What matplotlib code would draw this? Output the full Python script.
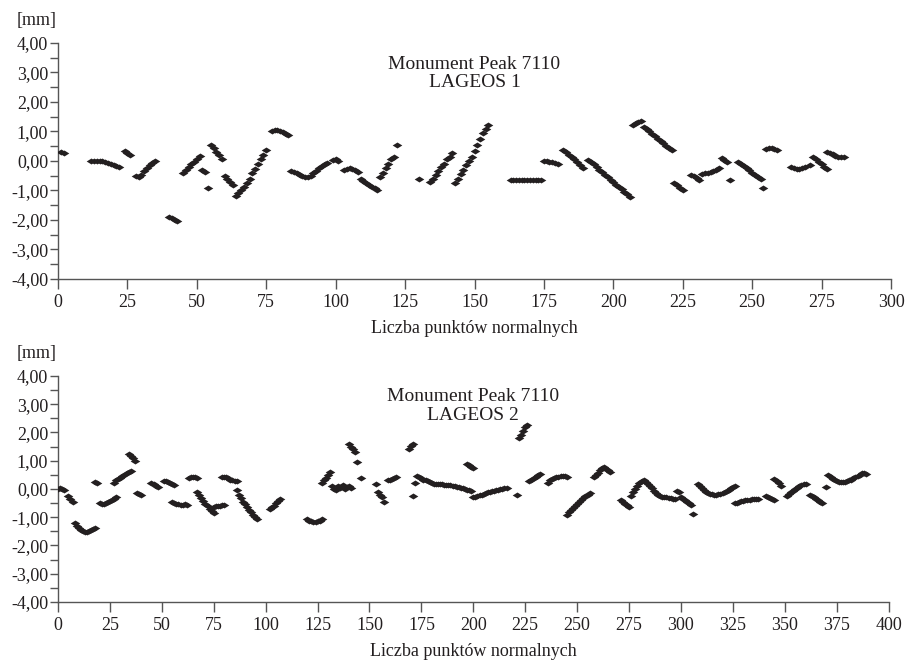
import matplotlib
matplotlib.use("Agg")
import matplotlib.pyplot as plt
from matplotlib.ticker import MultipleLocator, FuncFormatter
import numpy as np

plt.rcParams['font.family'] = ['Liberation Serif', 'DejaVu Serif']

#***** Data *****
# LAGEOS 1 : (start point, values [mm]) per run of normal points
lag1_start = [1, 12, 24, 28, 31, 40, 45, 52, 54, 55, 60, 64, 77, 84, 91, 99, 103, 109,
              116, 122, 130, 134, 143, 163, 175, 182, 191, 207, 211, 222, 228, 232,
              239, 242, 245, 254, 255, 264, 271, 272, 277]
lag1_vals = [
    [0.32, 0.28],
    [0.0, 0.01, 0.01, 0.0, -0.01, -0.03, -0.06, -0.09, -0.13, -0.17, -0.22],
    [0.35, 0.28, 0.2],
    [-0.5, -0.53, -0.48],
    [-0.35, -0.25, -0.15, -0.06, 0.0],
    [-1.9, -1.95, -2.0, -2.05],
    [-0.4, -0.32, -0.22, -0.12, -0.02, 0.08, 0.18],
    [-0.3, -0.38],
    [-0.9],
    [0.55, 0.45, 0.32, 0.2, 0.07],
    [-0.5, -0.6, -0.7, -0.8],
    [-1.2, -1.08, -0.98, -0.88, -0.75, -0.6, -0.42, -0.28, -0.12, 0.05, 0.2, 0.38],
    [1.03, 1.05, 1.04, 1.02, 0.98, 0.93, 0.88],
    [-0.35, -0.38, -0.42, -0.46, -0.5, -0.55, -0.55],
    [-0.5, -0.42, -0.33, -0.25, -0.18, -0.12, -0.07],
    [0.03, 0.05, 0.0],
    [-0.3, -0.26, -0.25, -0.27, -0.32, -0.37],
    [-0.6, -0.68, -0.75, -0.82, -0.88, -0.93, -0.98],
    [-0.55, -0.4, -0.25, -0.1, 0.05, 0.15],
    [0.54],
    [-0.6],
    [-0.7, -0.6, -0.48, -0.35, -0.22, -0.1, 0.05, 0.15, 0.27],
    [-0.75, -0.6, -0.45, -0.3, -0.15, 0.0, 0.15, 0.35, 0.55, 0.75, 0.95, 1.1, 1.22],
    [-0.63, -0.64, -0.65, -0.65, -0.65, -0.65, -0.65, -0.65, -0.65, -0.65, -0.64, -0.64],
    [0.0, 0.0, -0.02, -0.05, -0.08, -0.1],
    [0.38, 0.3, 0.2, 0.12, 0.05, -0.05, -0.15, -0.25],
    [0.02, -0.05, -0.12, -0.2, -0.3, -0.38, -0.47, -0.55, -0.63, -0.72, -0.8, -0.88,
     -0.95, -1.05, -1.12, -1.22],
    [1.22, 1.28, 1.33, 1.36],
    [1.15, 1.08, 1.0, 0.92, 0.85, 0.75, 0.67, 0.6, 0.52, 0.45, 0.36],
    [-0.75, -0.82, -0.9, -0.97],
    [-0.47, -0.52, -0.58, -0.63],
    [-0.45, -0.42, -0.4, -0.38, -0.35, -0.3, -0.25],
    [0.1, 0.03, -0.05],
    [-0.65],
    [-0.05, -0.12, -0.18, -0.25, -0.32, -0.4, -0.47, -0.55, -0.62],
    [-0.9],
    [0.42, 0.44, 0.43, 0.41, 0.38],
    [-0.22, -0.25, -0.27, -0.27, -0.25, -0.22],
    [-0.15],
    [0.12, 0.05, -0.02, -0.1, -0.2, -0.28],
    [0.3, 0.27, 0.22, 0.18, 0.15, 0.13, 0.13],
]

# LAGEOS 2
lag2_start = [0, 5, 8, 18, 20, 27, 34, 38, 45, 51, 55, 63, 67, 75, 79, 86, 102, 120,
              127, 132, 140, 144, 146, 153, 159, 169, 171, 172, 173, 197, 200, 221,
              222, 227, 236, 245, 258, 271, 276, 282, 290, 298, 306, 308, 326, 341,
              345, 351, 362, 370, 371]
lag2_vals = [
    [0.0, 0.02, 0.0, -0.03],
    [-0.25, -0.35, -0.47],
    [-1.2, -1.3, -1.38, -1.45, -1.5, -1.53, -1.53, -1.5, -1.46, -1.41, -1.37],
    [0.25, 0.22],
    [-0.5, -0.52, -0.52, -0.5, -0.47, -0.43, -0.4, -0.35, -0.3],
    [0.22, 0.3, 0.35, 0.4, 0.45, 0.5, 0.55, 0.6, 0.65],
    [1.25, 1.17, 1.08, 1.0],
    [-0.15, -0.17, -0.2],
    [0.22, 0.18, 0.12, 0.08],
    [0.28, 0.27, 0.25, 0.22, 0.18, 0.15],
    [-0.45, -0.5, -0.53, -0.55, -0.57, -0.57, -0.55, -0.58],
    [0.38, 0.42, 0.44, 0.42, 0.38],
    [-0.12, -0.22, -0.33, -0.43, -0.53, -0.62, -0.7, -0.78, -0.85],
    [-0.65, -0.62, -0.6, -0.6, -0.58, -0.58],
    [0.42, 0.44, 0.42, 0.38, 0.33, 0.3, 0.28, 0.27],
    [-0.05, -0.2, -0.32, -0.45, -0.55, -0.65, -0.75, -0.83, -0.92, -0.98, -1.05],
    [-0.7, -0.65, -0.6, -0.5, -0.42, -0.35],
    [-1.05, -1.12, -1.15, -1.17, -1.17, -1.15, -1.12, -1.08],
    [0.22, 0.3, 0.4, 0.5, 0.6],
    [0.1, 0.0, -0.05, 0.12, 0.05, 0.15, 0.0, 0.08, 0.12, 0.05],
    [1.6, 1.5, 1.4, 1.3],
    [0.95],
    [0.37],
    [0.18, -0.1, -0.2, -0.3, -0.47],
    [0.3, 0.33, 0.36, 0.4, 0.43],
    [1.42, 1.52, 1.6],
    [-0.25],
    [0.22],
    [0.45, 0.42, 0.38, 0.33, 0.3, 0.27, 0.24, 0.2, 0.18, 0.17, 0.16, 0.16, 0.16, 0.15,
     0.15, 0.14, 0.13, 0.12, 0.1, 0.08, 0.06, 0.04, 0.02, 0.0, -0.02, -0.04, -0.06],
    [0.87, 0.83, 0.78, 0.74],
    [-0.28, -0.27, -0.25, -0.23, -0.2, -0.18, -0.15, -0.12, -0.1, -0.08, -0.06, -0.04,
     -0.02, 0.0, 0.01, 0.02, 0.03],
    [-0.2],
    [1.8, 1.92, 2.05, 2.18, 2.28],
    [0.28, 0.33, 0.38, 0.43, 0.48, 0.53],
    [0.22, 0.3, 0.36, 0.4, 0.42, 0.44, 0.45, 0.45, 0.45, 0.44],
    [-0.92, -0.82, -0.75, -0.68, -0.6, -0.53, -0.47, -0.4, -0.32, -0.25, -0.2, -0.15],
    [0.42, 0.5, 0.58, 0.68, 0.75, 0.77, 0.72, 0.66, 0.6],
    [-0.4, -0.45, -0.52, -0.58, -0.65],
    [-0.25, -0.12, 0.0, 0.1, 0.2, 0.28],
    [0.3, 0.25, 0.18, 0.1, 0.02, -0.08, -0.15, -0.22],
    [-0.25, -0.28, -0.28, -0.3, -0.32, -0.33, -0.35, -0.35],
    [-0.08, -0.12, -0.3, -0.35, -0.4, -0.45, -0.5, -0.58],
    [-0.88],
    [0.18, 0.1, 0.02, -0.05, -0.1, -0.14, -0.17, -0.19, -0.2, -0.2, -0.19, -0.17, -0.14,
     -0.1, -0.06, -0.02, 0.03, 0.07, 0.1],
    [-0.5, -0.48, -0.46, -0.44, -0.42, -0.4, -0.39, -0.38, -0.37, -0.36, -0.36, -0.35],
    [-0.25, -0.28, -0.32, -0.36, -0.4],
    [0.35, 0.28, 0.2, 0.12],
    [-0.25, -0.18, -0.12, -0.06, 0.0, 0.05, 0.1, 0.14, 0.17, 0.18],
    [-0.2, -0.25, -0.3, -0.35, -0.4, -0.45, -0.48],
    [0.06],
    [0.48, 0.42, 0.35, 0.3, 0.27, 0.25, 0.24, 0.24, 0.25, 0.27, 0.3, 0.33, 0.37, 0.41,
     0.45, 0.5, 0.55, 0.58, 0.52],
]
#**************************************


def unpack(starts, vals):
    xs, ys = [], []
    for s, v in zip(starts, vals):
        xs += [s + i for i in range(len(v))]
        ys += v
    return np.array(xs), np.array(ys)


def fmt_mm(v, pos):
    if abs(v) < 1e-9:
        v = 0.0
    return ('%.2f' % v).replace('.', ',')


ink = '#231f20'
diamond = [(-1, 0), (0, 0.62), (1, 0), (0, -0.62), (-1, 0)]

fig = plt.figure(figsize=(9.12, 6.61), dpi=100)
ax1 = fig.add_axes([0.0636, 0.578, 0.9134, 0.357])
ax2 = fig.add_axes([0.0636, 0.0893, 0.9108, 0.342])

panels = [(ax1, lag1_start, lag1_vals, 300, 'LAGEOS 1'),
          (ax2, lag2_start, lag2_vals, 400, 'LAGEOS 2')]

for ax, st, vl, xmax, sat in panels:
    x, y = unpack(st, vl)
    ax.scatter(x, y, marker=diamond, s=48, color=ink, linewidths=0, zorder=3)
    ax.set_xlim(0, xmax)
    ax.set_ylim(-4, 4)
    ax.spines['top'].set_visible(False)
    ax.spines['right'].set_visible(False)
    for sp in ('left', 'bottom'):
        ax.spines[sp].set_color('#555555')
        ax.spines[sp].set_linewidth(1.0)
    ax.xaxis.set_major_locator(MultipleLocator(25))
    ax.yaxis.set_major_locator(MultipleLocator(1))
    ax.yaxis.set_minor_locator(MultipleLocator(0.5))
    ax.yaxis.set_major_formatter(FuncFormatter(fmt_mm))
    ax.tick_params(axis='both', which='both', direction='out', colors='#555555',
                   labelcolor=ink, labelsize=13, width=1.0)
    ax.tick_params(axis='y', which='both', length=6, pad=1)
    ax.tick_params(axis='x', length=7, pad=4)
    ax.set_xlabel('Liczba punktów normalnych', fontsize=13, color=ink, labelpad=6)
    ax.text(0.5, 0.945, 'Monument Peak 7110\n' + sat, transform=ax.transAxes,
            ha='center', va='top', fontsize=14, color=ink, linespacing=1.1)
    ax.text(-0.05, 1.06, '[mm]', transform=ax.transAxes, ha='left', va='bottom',
            fontsize=13, color=ink)

fig.savefig('out.png', dpi=100)
